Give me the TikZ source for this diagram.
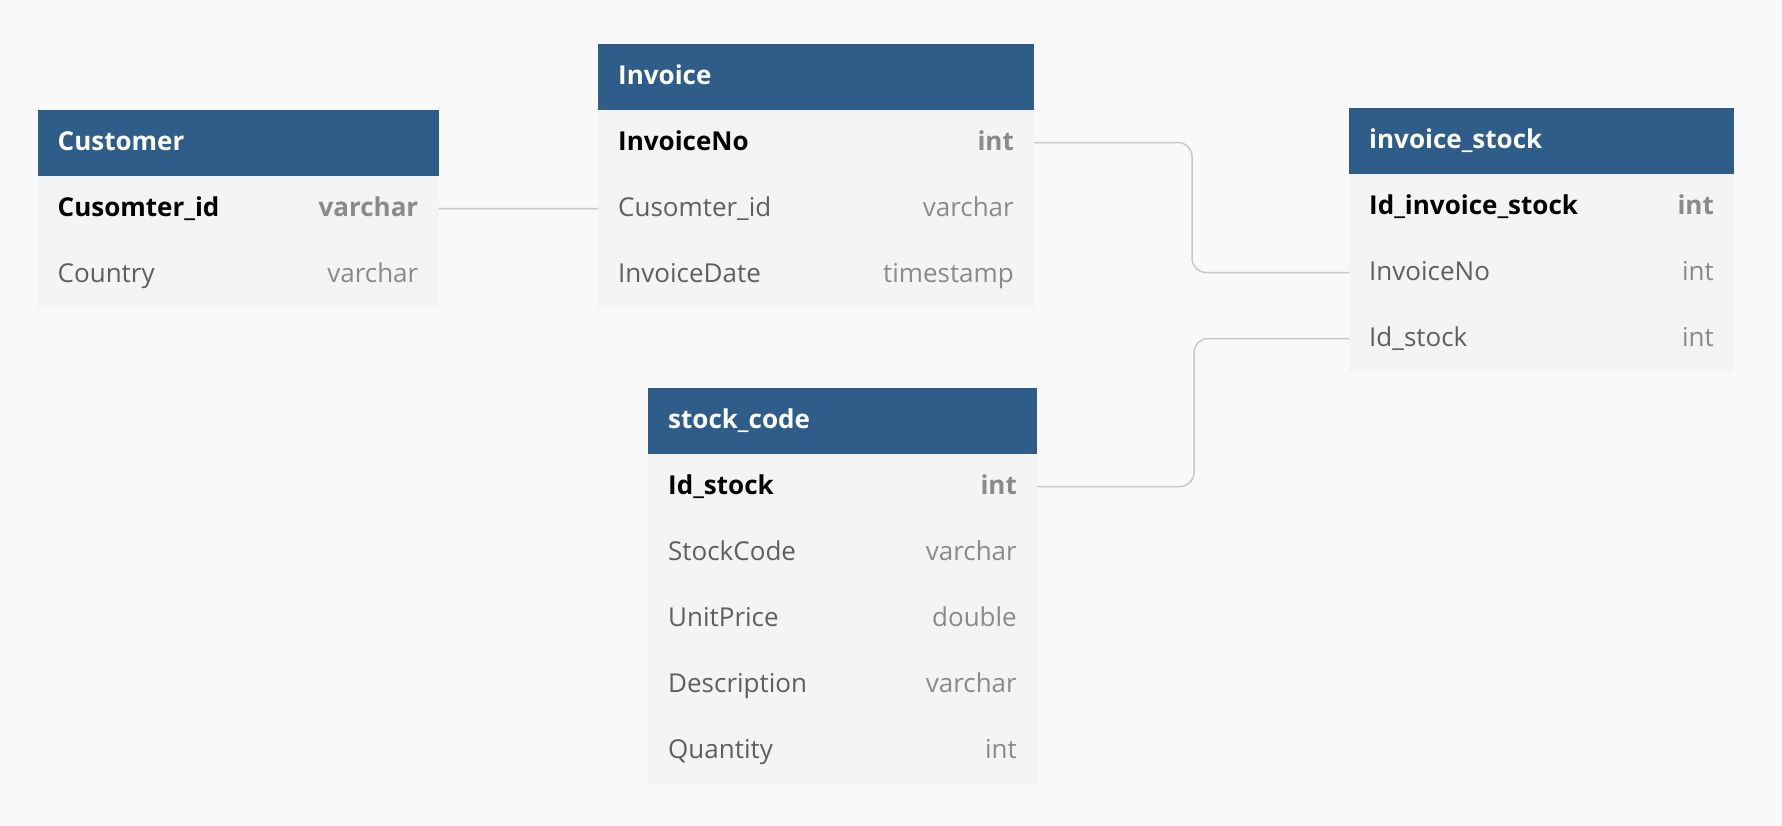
\documentclass[tikz,border=0pt]{standalone}
\usepackage{fontspec}
\setmainfont{Open Sans}
\definecolor{bg}{RGB}{249,249,249}
\definecolor{hdrblue}{RGB}{46,93,137}
\definecolor{rowgray}{RGB}{244,244,244}
\definecolor{namegray}{RGB}{95,95,95}
\definecolor{typegray}{RGB}{138,138,138}
\definecolor{linegray}{RGB}{200,200,200}
\tikzset{
  hdr/.style={fill=hdrblue, draw=none, minimum height=65.5bp, inner sep=0, outer sep=0, anchor=north west},
  rowbox/.style={fill=rowgray, draw=none, minimum height=66bp, inner sep=0, outer sep=0, anchor=north west},
  htitle/.style={font=\bfseries, text=white, anchor=base west, inner sep=0},
  pkname/.style={font=\bfseries, text=black, anchor=base west, inner sep=0},
  pktype/.style={font=\bfseries, text=typegray, anchor=base east, inner sep=0},
  fname/.style={text=namegray, anchor=base west, inner sep=0},
  ftype/.style={text=typegray, anchor=base east, inner sep=0},
  link/.style={draw=linegray, line width=1.5bp, rounded corners=14bp},
}
% table header: name, x, y, width, title
\newcommand{\erhead}[5]{%
  \node[hdr, minimum width=#4bp] (#1) at (#2,#3) {};
  \node[htitle] (#1-t) at ([xshift=20bp,yshift=-8bp]#1.west) {#5};
}
% row: name, above node, width, style prefix (pk/f), field, type
\newcommand{\errow}[6]{%
  \node[rowbox, minimum width=#3bp] (#1) at (#2.south west) {};
  \node[#4name] (#1-n) at ([xshift=20bp,yshift=-8bp]#1.west) {#5};
  \node[#4type] (#1-y) at ([xshift=-20bp,yshift=-8bp]#1.east) {#6};
}
\begin{document}
\begin{tikzpicture}[x=1bp,y=-1bp]
\fontsize{26bp}{31bp}\selectfont
\fill[bg] (0,0) rectangle (1782,826);
\useasboundingbox (0,0) rectangle (1782,826);

% Customer
\erhead{cu}{37.5}{110}{401}{Customer}
\errow{cu1}{cu}{401}{pk}{Cusomter\_id}{varchar}
\errow{cu2}{cu1}{401}{f}{Country}{varchar}

% Invoice
\erhead{inv}{598}{44}{436}{Invoice}
\errow{inv1}{inv}{436}{pk}{InvoiceNo}{int}
\errow{inv2}{inv1}{436}{f}{Cusomter\_id}{varchar}
\errow{inv3}{inv2}{436}{f}{InvoiceDate}{timestamp}

% invoice_stock
\erhead{is}{1349}{108}{385}{invoice\_stock}
\errow{is1}{is}{385}{pk}{Id\_invoice\_stock}{int}
\errow{is2}{is1}{385}{f}{InvoiceNo}{int}
\errow{is3}{is2}{385}{f}{Id\_stock}{int}

% stock_code
\erhead{sc}{648}{388}{389}{stock\_code}
\errow{sc1}{sc}{389}{pk}{Id\_stock}{int}
\errow{sc2}{sc1}{389}{f}{StockCode}{varchar}
\errow{sc3}{sc2}{389}{f}{UnitPrice}{double}
\errow{sc4}{sc3}{389}{f}{Description}{varchar}
\errow{sc5}{sc4}{389}{f}{Quantity}{int}

% connectors
\draw[link] (cu1.east) -- (inv2.west);
\draw[link] (inv1.east) -- (1192,0 |- inv1.east) -- (1192,0 |- is2.west) -- (is2.west);
\draw[link] (sc1.east) -- (1194,0 |- sc1.east) -- (1194,0 |- is3.west) -- (is3.west);
\end{tikzpicture}
\end{document}
